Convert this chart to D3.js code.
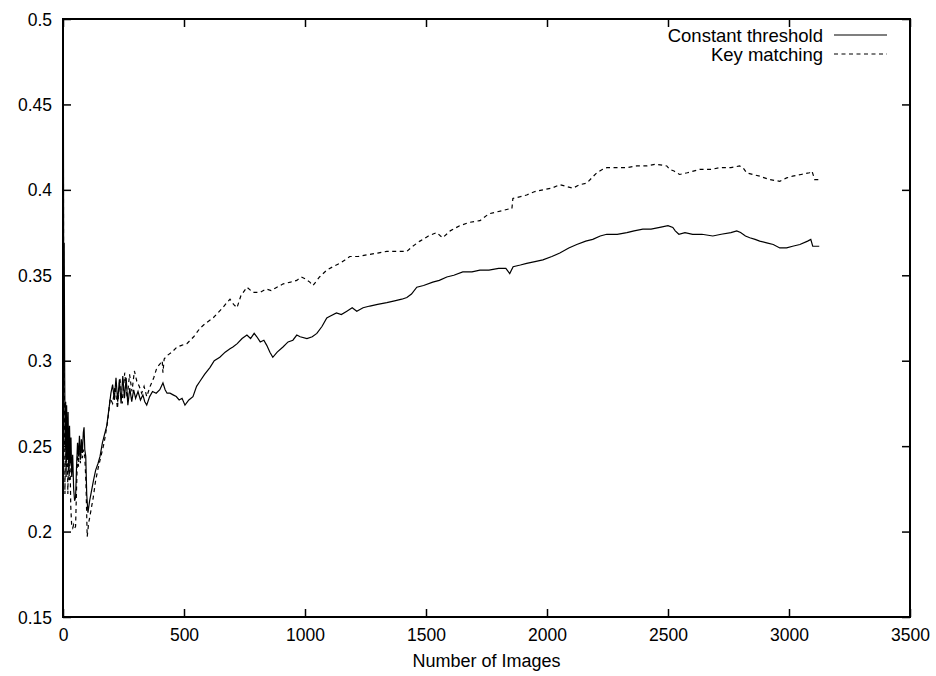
<!DOCTYPE html>
<html>
<head>
<meta charset="utf-8">
<script src="https://cdn.jsdelivr.net/npm/d3@7"></script>
<style>
  body { margin: 0; background: #fff; }
  svg text { font-family: "Liberation Sans", Arial, sans-serif; fill: #000; }
</style>
</head>
<body>
<div class="holder"></div>
<script>
"use strict";

const w = 936;
const h = 676;
const margin = { top: 19, right: 26, bottom: 59, left: 63 };

const xTicks = [0, 500, 1000, 1500, 2000, 2500, 3000, 3500];
const yTicks = [0.15, 0.2, 0.25, 0.3, 0.35, 0.4, 0.45, 0.5];
const xLabel = "Number of Images";
const seriesNames = ["Constant threshold", "Key matching"];

// [images, rate]
const constantThreshold = [
  [1, 0.5], [3, 0.333], [5, 0.369], [7, 0.29], [9, 0.25], [11, 0.276], [13, 0.232],
  [15, 0.274], [18, 0.242], [21, 0.27], [24, 0.235], [27, 0.262], [30, 0.24],
  [33, 0.255], [36, 0.232], [40, 0.245], [44, 0.225], [48, 0.218], [52, 0.22],
  [56, 0.238], [60, 0.252], [64, 0.244], [68, 0.256], [72, 0.242], [76, 0.254],
  [80, 0.246], [84, 0.258], [87, 0.261], [90, 0.248], [94, 0.244], [98, 0.222],
  [103, 0.211], [110, 0.218], [118, 0.224], [126, 0.23], [135, 0.236], [145, 0.24],
  [153, 0.244], [163, 0.252], [172, 0.257], [181, 0.262], [190, 0.272], [198, 0.281],
  [205, 0.286], [212, 0.277], [219, 0.29], [226, 0.276], [233, 0.289], [240, 0.275],
  [247, 0.291], [254, 0.278], [261, 0.29], [268, 0.274], [276, 0.284], [284, 0.276],
  [292, 0.283], [300, 0.278], [310, 0.282], [320, 0.277], [330, 0.28], [338, 0.276],
  [346, 0.274], [358, 0.279], [370, 0.282], [385, 0.281], [400, 0.283], [413, 0.287],
  [422, 0.283], [430, 0.281], [442, 0.281], [455, 0.28], [468, 0.279], [480, 0.277],
  [492, 0.278], [504, 0.274], [520, 0.277], [537, 0.279], [552, 0.285], [566, 0.288],
  [585, 0.292], [607, 0.296], [625, 0.3], [648, 0.302], [670, 0.305], [690, 0.307],
  [702, 0.308], [720, 0.31], [740, 0.313], [760, 0.315], [775, 0.313], [790, 0.316],
  [801, 0.314], [815, 0.311], [830, 0.312], [842, 0.309], [855, 0.305], [867, 0.302],
  [885, 0.305], [909, 0.308], [930, 0.311], [950, 0.312], [966, 0.315], [980, 0.314],
  [1008, 0.313], [1030, 0.314], [1049, 0.316], [1070, 0.32], [1090, 0.325],
  [1103, 0.326], [1130, 0.328], [1150, 0.327], [1173, 0.329], [1195, 0.331],
  [1214, 0.329], [1240, 0.331], [1268, 0.332], [1300, 0.333], [1338, 0.334],
  [1370, 0.335], [1400, 0.336], [1421, 0.337], [1440, 0.339], [1462, 0.343],
  [1490, 0.344], [1528, 0.346], [1555, 0.347], [1586, 0.349], [1615, 0.35],
  [1652, 0.352], [1690, 0.352], [1723, 0.353], [1760, 0.353], [1800, 0.354],
  [1830, 0.354], [1846, 0.351], [1860, 0.355], [1890, 0.356], [1916, 0.357],
  [1950, 0.358], [1983, 0.359], [2020, 0.361], [2053, 0.363], [2090, 0.366],
  [2123, 0.368], [2160, 0.37], [2189, 0.371], [2220, 0.373], [2247, 0.374],
  [2290, 0.374], [2330, 0.375], [2360, 0.376], [2396, 0.377], [2430, 0.377],
  [2466, 0.378], [2500, 0.379], [2520, 0.378], [2530, 0.376], [2545, 0.374],
  [2570, 0.375], [2602, 0.374], [2640, 0.374], [2685, 0.373], [2720, 0.374],
  [2760, 0.375], [2784, 0.376], [2800, 0.375], [2820, 0.373], [2838, 0.372],
  [2860, 0.371], [2879, 0.37], [2908, 0.369], [2935, 0.368], [2962, 0.366],
  [2990, 0.366], [3015, 0.367], [3045, 0.368], [3077, 0.37], [3090, 0.371],
  [3098, 0.367], [3125, 0.367]
];

const keyMatching = [
  [1, 0.5], [3, 0.25], [5, 0.3], [8, 0.222], [11, 0.27], [14, 0.238], [17, 0.258],
  [20, 0.222], [23, 0.248], [26, 0.23], [29, 0.242], [32, 0.215], [36, 0.203],
  [40, 0.202], [44, 0.204], [48, 0.202], [52, 0.203], [56, 0.225], [60, 0.245],
  [64, 0.238], [68, 0.252], [72, 0.24], [76, 0.25], [80, 0.243], [85, 0.248],
  [90, 0.244], [95, 0.228], [100, 0.197], [106, 0.205], [115, 0.212], [125, 0.22],
  [135, 0.23], [145, 0.237], [155, 0.243], [170, 0.252], [185, 0.265], [195, 0.278],
  [205, 0.275], [215, 0.285], [225, 0.272], [235, 0.29], [245, 0.275], [255, 0.293],
  [265, 0.278], [275, 0.292], [285, 0.282], [295, 0.294], [305, 0.288], [315, 0.285],
  [325, 0.281], [335, 0.285], [346, 0.279], [360, 0.285], [375, 0.29], [388, 0.296],
  [400, 0.298], [410, 0.3], [413, 0.293], [418, 0.301], [430, 0.303], [450, 0.305],
  [471, 0.308], [490, 0.309], [512, 0.31], [540, 0.314], [566, 0.319], [590, 0.322],
  [620, 0.325], [640, 0.328], [660, 0.331], [677, 0.334], [690, 0.336], [705, 0.333],
  [719, 0.331], [735, 0.338], [760, 0.343], [785, 0.34], [814, 0.34], [840, 0.342],
  [860, 0.341], [884, 0.343], [910, 0.345], [940, 0.346], [966, 0.347], [985, 0.349],
  [1000, 0.348], [1020, 0.346], [1033, 0.344], [1060, 0.349], [1090, 0.353],
  [1115, 0.355], [1144, 0.357], [1165, 0.359], [1185, 0.361], [1220, 0.361],
  [1256, 0.362], [1300, 0.363], [1338, 0.364], [1380, 0.364], [1421, 0.364],
  [1445, 0.367], [1475, 0.37], [1510, 0.373], [1544, 0.375], [1560, 0.373],
  [1569, 0.372], [1600, 0.376], [1639, 0.379], [1680, 0.381], [1723, 0.382],
  [1760, 0.386], [1790, 0.387], [1820, 0.388], [1846, 0.389], [1855, 0.389],
  [1859, 0.395], [1890, 0.396], [1916, 0.397], [1950, 0.399], [1983, 0.4],
  [2020, 0.401], [2053, 0.403], [2080, 0.402], [2107, 0.401], [2135, 0.403],
  [2165, 0.404], [2185, 0.407], [2206, 0.41], [2230, 0.412], [2247, 0.413],
  [2290, 0.413], [2330, 0.413], [2370, 0.414], [2412, 0.414], [2450, 0.415],
  [2495, 0.414], [2507, 0.412], [2525, 0.411], [2548, 0.409], [2580, 0.41],
  [2631, 0.412], [2680, 0.412], [2714, 0.413], [2760, 0.413], [2796, 0.414],
  [2810, 0.413], [2825, 0.41], [2850, 0.409], [2879, 0.408], [2920, 0.406],
  [2962, 0.405], [2990, 0.407], [3015, 0.408], [3050, 0.409], [3085, 0.41],
  [3095, 0.411], [3106, 0.406], [3125, 0.406]
];

const svg = d3
  .select(".holder")
  .append("svg")
  .attr("width", w)
  .attr("height", h);

const x = d3
  .scaleLinear()
  .domain([0, 3500])
  .range([margin.left, w - margin.right]);
const y = d3
  .scaleLinear()
  .domain([0.15, 0.5])
  .range([h - margin.bottom, margin.top]);

const tickFont = "17.5px";
const labelFont = "18px";
const tickLen = 8;

// axes with inward ticks, plus mirrored ticks on top/right
const bottomAxis = d3.axisBottom(x).tickValues(xTicks).tickFormat(d3.format("d"))
  .tickSizeInner(-tickLen).tickSizeOuter(0).tickPadding(12);
const leftAxis = d3.axisLeft(y).tickValues(yTicks).tickFormat((d) => +d.toFixed(2))
  .tickSizeInner(-tickLen).tickSizeOuter(0).tickPadding(11);
const topAxis = d3.axisTop(x).tickValues(xTicks).tickFormat("")
  .tickSizeInner(-tickLen).tickSizeOuter(0);
const rightAxis = d3.axisRight(y).tickValues(yTicks).tickFormat("")
  .tickSizeInner(-tickLen).tickSizeOuter(0);

svg.append("g")
  .attr("transform", "translate(0," + (h - margin.bottom) + ")")
  .call(bottomAxis);
const gy = svg.append("g")
  .attr("transform", "translate(" + margin.left + ",0)")
  .call(leftAxis);
svg.append("g").attr("transform", "translate(0," + margin.top + ")").call(topAxis);
svg.append("g").attr("transform", "translate(" + (w - margin.right) + ",0)").call(rightAxis);

svg.selectAll(".domain").remove();
svg.selectAll(".tick line").attr("stroke", "#000").attr("stroke-width", 1.5);
svg.selectAll(".tick text")
  .style("font-size", tickFont)
  .style("font-family", "'Liberation Sans', Arial, sans-serif");
gy.selectAll(".tick text").attr("dy", "0.35em");

// frame
svg.append("rect")
  .attr("x", margin.left)
  .attr("y", margin.top)
  .attr("width", w - margin.left - margin.right)
  .attr("height", h - margin.top - margin.bottom)
  .attr("fill", "none")
  .attr("stroke", "#000")
  .attr("stroke-width", 2);

svg.append("text")
  .attr("x", (margin.left + w - margin.right) / 2)
  .attr("y", 667)
  .attr("text-anchor", "middle")
  .style("font-size", labelFont)
  .text(xLabel);

const line = d3.line().x((d) => x(d[0])).y((d) => y(d[1]));

const series = [
  { name: seriesNames[0], values: constantThreshold, dash: null },
  { name: seriesNames[1], values: keyMatching, dash: "4,3.5" }
];

svg.selectAll(".series")
  .data(series)
  .enter()
  .append("path")
  .attr("class", "series")
  .attr("d", (d) => line(d.values))
  .attr("fill", "none")
  .attr("stroke", "#000")
  .attr("stroke-width", 1.2)
  .attr("stroke-dasharray", (d) => d.dash);

// legend, top right like gnuplot
const legend = svg.append("g");
const rows = legend.selectAll("g")
  .data(series)
  .enter()
  .append("g")
  .attr("transform", (d, i) => "translate(0," + (36 + i * 19) + ")");
rows.append("text")
  .attr("x", 823)
  .attr("y", 0)
  .attr("dy", "0.35em")
  .attr("text-anchor", "end")
  .style("font-size", "18.5px")
  .text((d) => d.name);
rows.append("line")
  .attr("x1", 834)
  .attr("x2", 887)
  .attr("y1", -1)
  .attr("y2", -1)
  .attr("stroke", "#000")
  .attr("stroke-width", 1.2)
  .attr("stroke-dasharray", (d) => d.dash);
</script>
</body>
</html>
